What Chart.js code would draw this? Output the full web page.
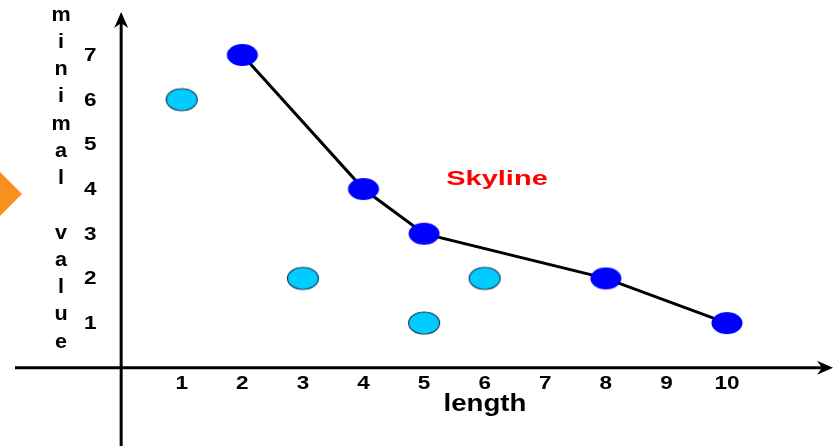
<!DOCTYPE html>
<html>
<head>
<meta charset="utf-8">
<script src="https://cdn.jsdelivr.net/npm/chart.js@4.4.0/dist/chart.umd.min.js"></script>
<style>
    html, body { margin: 0; padding: 0; background: #ffffff; }
    #wrap { width: 833px; height: 446px; position: relative; }
</style>
</head>
<body>
<div id="wrap"><canvas id="skylineChart"></canvas></div>
<script>
// points that make up the skyline (joined by a line)
const skylineX = [2, 4, 5, 8, 10];
const skylineY = [7, 4, 3, 2, 1];

// points dominated by the skyline
const otherX = [1, 3, 5, 6];
const otherY = [6, 2, 1, 2];

const xTickLabels = ['1', '2', '3', '4', '5', '6', '7', '8', '9', '10'];
const yTickLabels = ['1', '2', '3', '4', '5', '6', '7'];

const xTitle = 'length';
const yTitle = 'minimal value';
const skylineLabel = 'Skyline';

const FONT = '"Liberation Sans", Arial, sans-serif';

// oval marker, pointStyle accepts a canvas
function ovalMarker(fill, stroke) {
    const c = document.createElement('canvas');
    c.width = 34;
    c.height = 26;
    const ctx = c.getContext('2d');
    ctx.beginPath();
    ctx.ellipse(17, 13, 15.5, 11, 0, 0, Math.PI * 2);
    ctx.fillStyle = fill;
    ctx.fill();
    if (stroke) {
        ctx.lineWidth = 1.2;
        ctx.strokeStyle = stroke;
        ctx.stroke();
    }
    return c;
}

function arrowHead(ctx, x, y, dir) {
    ctx.beginPath();
    if (dir === 'right') {
        ctx.moveTo(x, y);
        ctx.lineTo(x - 16, y - 7);
        ctx.lineTo(x - 11, y);
        ctx.lineTo(x - 16, y + 7);
    } else {
        ctx.moveTo(x, y);
        ctx.lineTo(x - 7, y + 16);
        ctx.lineTo(x, y + 11);
        ctx.lineTo(x + 7, y + 16);
    }
    ctx.closePath();
    ctx.fill();
}

// text drawn a little wider than the font
function wideText(ctx, text, x, y, sx) {
    ctx.save();
    ctx.translate(x, y);
    ctx.scale(sx, 1);
    ctx.fillText(text, 0, 0);
    ctx.restore();
}

// axes through the origin, tick labels, titles and the side marker
const decorations = {
    id: 'decorations',
    beforeDatasetsDraw(chart) {
        const ctx = chart.ctx;
        const xs = chart.scales.x;
        const ys = chart.scales.y;
        const x0 = xs.getPixelForValue(0);
        const y0 = ys.getPixelForValue(0);
        const area = chart.chartArea;

        ctx.save();
        // orange marker on the left edge
        ctx.fillStyle = '#f7901e';
        ctx.beginPath();
        ctx.moveTo(0, 172);
        ctx.lineTo(22, 194);
        ctx.lineTo(0, 216);
        ctx.closePath();
        ctx.fill();

        ctx.strokeStyle = '#000000';
        ctx.fillStyle = '#000000';
        ctx.lineWidth = 3;
        ctx.beginPath();
        ctx.moveTo(15, y0);
        ctx.lineTo(area.right - 6, y0);
        ctx.stroke();
        arrowHead(ctx, area.right, y0, 'right');

        ctx.beginPath();
        ctx.moveTo(x0, area.bottom);
        ctx.lineTo(x0, area.top + 18);
        ctx.stroke();
        arrowHead(ctx, x0, area.top + 12, 'up');

        ctx.font = 'bold 18px ' + FONT;
        ctx.textAlign = 'center';
        ctx.textBaseline = 'middle';
        xTickLabels.forEach(t => {
            wideText(ctx, t, xs.getPixelForValue(Number(t)), y0 + 16, 1.25);
        });
        yTickLabels.forEach(t => {
            wideText(ctx, t, x0 - 31, ys.getPixelForValue(Number(t)) + 1, 1.25);
        });

        ctx.font = 'bold 20px ' + FONT;
        [...yTitle].forEach((ch, i) => {
            if (ch !== ' ') wideText(ctx, ch, 61, 15 + i * 27.25, 1.08);
        });

        ctx.textBaseline = 'alphabetic';
        ctx.font = 'bold 24px ' + FONT;
        wideText(ctx, xTitle, 485, 411, 1.15);

        ctx.fillStyle = '#ff0000';
        ctx.font = 'bold 21px ' + FONT;
        wideText(ctx, skylineLabel, 497, 185, 1.38);
        ctx.restore();
    }
};

new Chart(
    document.getElementById('skylineChart'),
    {
        type: 'scatter',
        data: {
            datasets: [
                {
                    label: 'skyline',
                    data: skylineX.map((x, i) => ({ x: x, y: skylineY[i] })),
                    showLine: true,
                    borderColor: '#000000',
                    borderWidth: 3,
                    pointStyle: ovalMarker('#0000ff'),
                },
                {
                    label: 'others',
                    data: otherX.map((x, i) => ({ x: x, y: otherY[i] })),
                    showLine: false,
                    pointStyle: ovalMarker('#00ccff', '#1a3a5a'),
                }
            ]
        },
        options: {
            responsive: true,
            maintainAspectRatio: false,
            animation: false,
            layout: { padding: 0, autoPadding: false },
            plugins: {
                legend: { display: false },
                tooltip: { enabled: false },
            },
            scales: {
                x: { type: 'linear', min: -2, max: 11.75, display: false },
                y: { type: 'linear', min: -1.75, max: 8.23, display: false },
            }
        },
        plugins: [decorations]
    }
);
</script>
</body>
</html>
